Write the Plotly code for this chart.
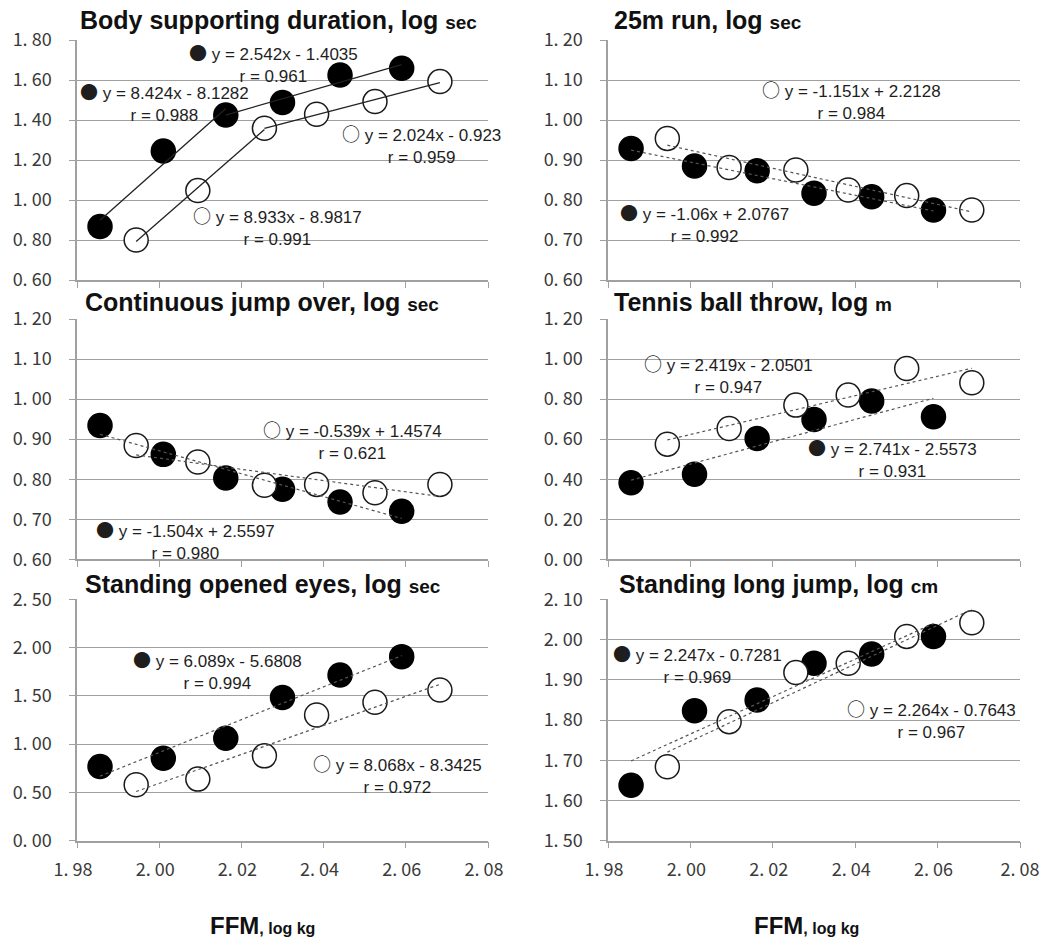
import numpy as np
import plotly.graph_objects as go

W, H = 1041, 941

# ---------------- data ----------------
x_filled = [1.9856, 2.0010, 2.0162, 2.0300, 2.0440, 2.0590]
x_open = [1.9944, 2.0094, 2.0256, 2.0383, 2.0525, 2.0683]

body_filled = [0.867, 1.245, 1.425, 1.487, 1.625, 1.659]
body_open = [0.800, 1.047, 1.359, 1.429, 1.492, 1.592]
run_filled = [0.929, 0.885, 0.873, 0.817, 0.808, 0.775]
run_open = [0.954, 0.881, 0.875, 0.825, 0.811, 0.775]
jump_filled = [0.934, 0.862, 0.803, 0.775, 0.743, 0.720]
jump_open = [0.884, 0.843, 0.785, 0.787, 0.766, 0.787]
throw_filled = [0.382, 0.425, 0.603, 0.698, 0.790, 0.712]
throw_open = [0.575, 0.653, 0.770, 0.820, 0.953, 0.882]
eyes_filled = [0.769, 0.855, 1.062, 1.483, 1.717, 1.907]
eyes_open = [0.579, 0.638, 0.879, 1.303, 1.434, 1.562]
longjump_filled = [1.638, 1.823, 1.850, 1.941, 1.964, 2.008]
longjump_open = [1.684, 1.796, 1.918, 1.941, 2.008, 2.042]

x_tickvals = [1.98, 2.00, 2.02, 2.04, 2.06, 2.08]
x_ticktext = ["1. 98", "2. 00", "2. 02", "2. 04", "2. 06", "2. 08"]

body_ticks = [0.6, 0.8, 1.0, 1.2, 1.4, 1.6, 1.8]
body_ticktext = ["0. 60", "0. 80", "1. 00", "1. 20", "1. 40", "1. 60", "1. 80"]
run_ticks = [0.6, 0.7, 0.8, 0.9, 1.0, 1.1, 1.2]
run_ticktext = ["0. 60", "0. 70", "0. 80", "0. 90", "1. 00", "1. 10", "1. 20"]
jump_ticks = [0.6, 0.7, 0.8, 0.9, 1.0, 1.1, 1.2]
jump_ticktext = ["0. 60", "0. 70", "0. 80", "0. 90", "1. 00", "1. 10", "1. 20"]
throw_ticks = [0.0, 0.2, 0.4, 0.6, 0.8, 1.0, 1.2]
throw_ticktext = ["0. 00", "0. 20", "0. 40", "0. 60", "0. 80", "1. 00", "1. 20"]
eyes_ticks = [0.0, 0.5, 1.0, 1.5, 2.0, 2.5]
eyes_ticktext = ["0. 00", "0. 50", "1. 00", "1. 50", "2. 00", "2. 50"]
longjump_ticks = [1.5, 1.6, 1.7, 1.8, 1.9, 2.0, 2.1]
longjump_ticktext = ["1. 50", "1. 60", "1. 70", "1. 80", "1. 90", "2. 00", "2. 10"]

titles = ["Body supporting duration, log", "25m run, log", "Continuous jump over, log",
          "Tennis ball throw, log", "Standing opened eyes, log", "Standing long jump, log"]
units = ["sec", "sec", "sec", "m", "sec", "cm"]

body_eq = [("filled", "y = 2.542x - 1.4035", "r = 0.961"), ("filled", "y = 8.424x - 8.1282", "r = 0.988"),
           ("open", "y = 2.024x - 0.923", "r = 0.959"), ("open", "y = 8.933x - 8.9817", "r = 0.991")]
run_eq = [("open", "y = -1.151x + 2.2128", "r = 0.984"), ("filled", "y = -1.06x + 2.0767", "r = 0.992")]
jump_eq = [("open", "y = -0.539x + 1.4574", "r = 0.621"), ("filled", "y = -1.504x + 2.5597", "r = 0.980")]
throw_eq = [("open", "y = 2.419x - 2.0501", "r = 0.947"), ("filled", "y = 2.741x - 2.5573", "r = 0.931")]
eyes_eq = [("filled", "y = 6.089x - 5.6808", "r = 0.994"), ("open", "y = 8.068x - 8.3425", "r = 0.972")]
longjump_eq = [("filled", "y = 2.247x - 0.7281", "r = 0.969"), ("open", "y = 2.264x - 0.7643", "r = 0.967")]

# ---------------- layout / style ----------------
col_px = [(77, 488), (608, 1020)]
row_px = [(40, 280), (319, 559.3), (599.4, 840.7)]
title_px = [(78, 20), (612, 20), (83, 302), (612, 302), (83, 584), (617, 584)]
eq_pos = [
    [(2.0278, 1.69), (2.0012, 1.495), (2.0637, 1.2825), (2.0289, 0.8725)],
    [(2.0391, 1.051), (2.0035, 0.744)],
    [(2.047, 0.8995), (2.0064, 0.6495)],
    [(2.0092, 0.927), (2.0491, 0.51)],
    [(2.0142, 1.778), (2.058, 0.70)],
    [(2.0017, 1.941), (2.0586, 1.803)],
]

panels = [
    dict(f=body_filled, o=body_open, ticks=body_ticks, tt=body_ticktext, eq=body_eq, piecewise=True),
    dict(f=run_filled, o=run_open, ticks=run_ticks, tt=run_ticktext, eq=run_eq, piecewise=False),
    dict(f=jump_filled, o=jump_open, ticks=jump_ticks, tt=jump_ticktext, eq=jump_eq, piecewise=False),
    dict(f=throw_filled, o=throw_open, ticks=throw_ticks, tt=throw_ticktext, eq=throw_eq, piecewise=False),
    dict(f=eyes_filled, o=eyes_open, ticks=eyes_ticks, tt=eyes_ticktext, eq=eyes_eq, piecewise=False),
    dict(f=longjump_filled, o=longjump_open, ticks=longjump_ticks, tt=longjump_ticktext, eq=longjump_eq, piecewise=False),
]

GRID = "#a0a0a0"
TICKFONT = dict(family="Noto Sans CJK JP", size=18, color="#3a3a3a")
EQFONT = dict(family="Liberation Sans, Arial", size=17, color="#1e1e1e")
TFONT = dict(family="Liberation Sans, Arial", size=25, color="#111111")
NB = "\u00a0\u00a0"

fig = go.Figure()
annotations = []

for i, p in enumerate(panels):
    r, c = i // 2, i % 2
    sfx = "" if i == 0 else str(i + 1)
    xa, ya = "x" + sfx, "y" + sfx

    # markers
    fig.add_trace(go.Scatter(x=x_filled, y=p["f"], mode="markers", xaxis=xa, yaxis=ya,
                             marker=dict(size=24, color="black", line=dict(color="black", width=1.5)),
                             showlegend=False, cliponaxis=False))
    fig.add_trace(go.Scatter(x=x_open, y=p["o"], mode="markers", xaxis=xa, yaxis=ya,
                             marker=dict(size=24, color="white", line=dict(color="#1a1a1a", width=1.5)),
                             showlegend=False, cliponaxis=False))

    # trend lines
    for xs, ys in [(x_filled, p["f"]), (x_open, p["o"])]:
        segs = [(0, 3), (2, 6)] if p["piecewise"] else [(0, 6)]
        for a, b in segs:
            xx = np.array(xs[a:b])
            yy = np.array(ys[a:b])
            m, k = np.polyfit(xx, yy, 1)
            xl = [xx[0], xx[-1]]
            if p["piecewise"]:
                line = dict(color="#222222", width=1.3)
            else:
                line = dict(color="#555555", width=1.2, dash="dot")
            fig.add_trace(go.Scatter(x=xl, y=[m * v + k for v in xl], mode="lines", xaxis=xa, yaxis=ya,
                                     line=line, showlegend=False, hoverinfo="skip"))

    x0, x1 = col_px[c]
    y0, y1 = row_px[r]
    xtt = [t + NB for t in x_ticktext]
    if c == 1:
        xtt[-1] = x_ticktext[-1]
    fig.update_layout(**{
        "xaxis" + sfx: dict(domain=[x0 / W, x1 / W], range=[1.98, 2.08], anchor=ya,
                            tickvals=x_tickvals, ticktext=xtt,
                            showticklabels=(r == 2), automargin=False, ticklabeloverflow="allow",
                            ticks="outside", ticklen=6, tickcolor=GRID, tickwidth=1.3,
                            showline=True, linecolor=GRID, linewidth=1.5,
                            showgrid=False, zeroline=False, tickfont=TICKFONT,
                            ticklabelstandoff=6),
        "yaxis" + sfx: dict(domain=[1 - y1 / H, 1 - y0 / H], range=[p["ticks"][0], p["ticks"][-1]],
                            anchor=xa, tickvals=p["ticks"], ticktext=p["tt"], automargin=False,
                            ticklabeloverflow="allow",
                            ticks="outside", ticklen=6, tickcolor=GRID, tickwidth=1.3,
                            showline=True, linecolor=GRID, linewidth=1.5,
                            showgrid=True, gridcolor=GRID, gridwidth=1.4, zeroline=False,
                            tickfont=TICKFONT, ticklabelstandoff=14),
    })

    # title
    tx, ty = title_px[i]
    annotations.append(dict(
        text=f"<b>{titles[i]} <span style='font-size:19px'>{units[i]}</span></b>",
        x=tx / W, y=1 - ty / H, xref="paper", yref="paper", xanchor="left", yanchor="middle",
        showarrow=False, font=TFONT))

    # equations
    for (kind, eq, rr), (ex, ey) in zip(p["eq"], eq_pos[i]):
        glyph = "●" if kind == "filled" else "○"
        annotations.append(dict(
            text=f"<span style='font-family:Noto Sans CJK JP;font-size:18px'>{glyph}</span> {eq}<br>{rr}",
            x=ex, y=ey, xref=xa, yref=ya, xanchor="center", yanchor="middle", align="center",
            showarrow=False, font=EQFONT))

# x-axis titles
for cx in (262, 806):
    annotations.append(dict(
        text="<b>FFM</b><b><span style='font-size:16px'>, log kg</span></b>",
        x=cx / W, y=1 - 925 / H, xref="paper", yref="paper", xanchor="center", yanchor="middle",
        showarrow=False, font=dict(family="Liberation Sans, Arial", size=24, color="#111111")))

fig.update_layout(width=W, height=H, margin=dict(l=0, r=0, t=0, b=0, pad=0, autoexpand=False),
                  paper_bgcolor="white", plot_bgcolor="white", annotations=annotations,
                  showlegend=False)

fig.write_html("out.html")
